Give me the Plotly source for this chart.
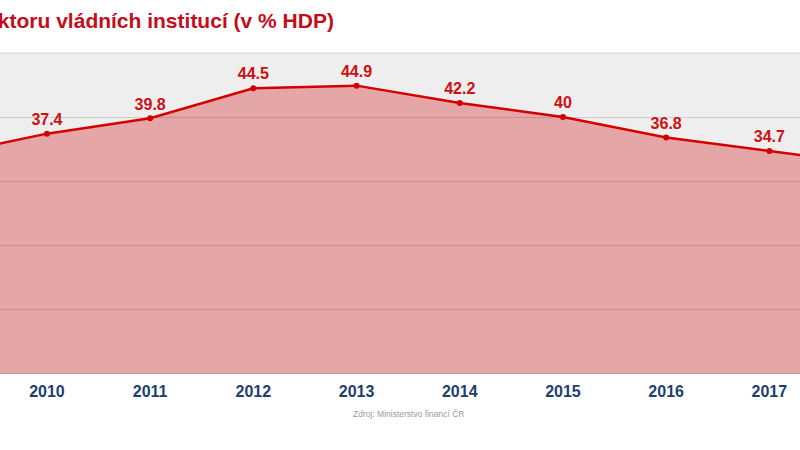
import plotly.graph_objects as go

years = [2009, 2010, 2011, 2012, 2013, 2014, 2015, 2016, 2017, 2018]
debt = [34.0, 37.4, 39.8, 44.5, 44.9, 42.2, 40.0, 36.8, 34.7, 32.6]
labels = ["", "37.4", "39.8", "44.5", "44.9", "42.2", "40", "36.8", "34.7", ""]
tick_years = [2010, 2011, 2012, 2013, 2014, 2015, 2016, 2017]
title_text = "Dluh sektoru vládních institucí (v % HDP)"
source_text = "Zdroj: Ministerstvo financí ČR"

fig = go.Figure()
fig.add_trace(go.Scatter(
    x=years, y=debt, mode="lines+markers+text",
    text=labels, textposition="top center",
    textfont=dict(family="Liberation Sans, Arial", size=16, color="#cc1111", weight="bold"),
    line=dict(color="#d40000", width=2.5),
    marker=dict(color="#d40000", size=6),
    fill="tozeroy", fillcolor="rgba(204,0,0,0.3)",
    cliponaxis=True, hoverinfo="skip",
))

fig.update_layout(
    width=800, height=450,
    margin=dict(l=0, r=0, t=53, b=77),
    paper_bgcolor="white", plot_bgcolor="#eeeeee",
    showlegend=False,
    xaxis=dict(range=[2009.545, 2017.297], tickvals=tick_years,
               ticktext=[str(y) for y in tick_years],
               tickfont=dict(family="Liberation Sans, Arial", size=16, color="#1d3f6e", weight="bold"),
               showgrid=False, zeroline=False, showline=True, linecolor="#c49a9a", linewidth=1,
               ticks="", ticklabelstandoff=4),
    yaxis=dict(range=[0, 50], dtick=10, showticklabels=False, gridcolor="#cccccc",
               zeroline=False, showline=False),
    shapes=[dict(type="line", xref="paper", yref="paper", x0=0, x1=1, y0=1, y1=1,
                 line=dict(color="#d6d6d6", width=1))],
    annotations=[
        dict(text=title_text, xref="paper", yref="paper", x=336/800, y=1, yshift=33,
             xanchor="right", yanchor="middle", showarrow=False,
             font=dict(family="Liberation Sans, Arial", size=21, color="#c40d1a", weight="bold")),
        dict(text=source_text, xref="paper", yref="paper", x=408/800, y=0, yshift=-41,
             xanchor="center", yanchor="middle", showarrow=False,
             font=dict(family="Liberation Sans, Arial", size=8.5, color="#9a9a9a")),
    ],
)

fig.write_html("out.html", config={"displayModeBar": False},
               post_script="document.body.style.margin='0';")
